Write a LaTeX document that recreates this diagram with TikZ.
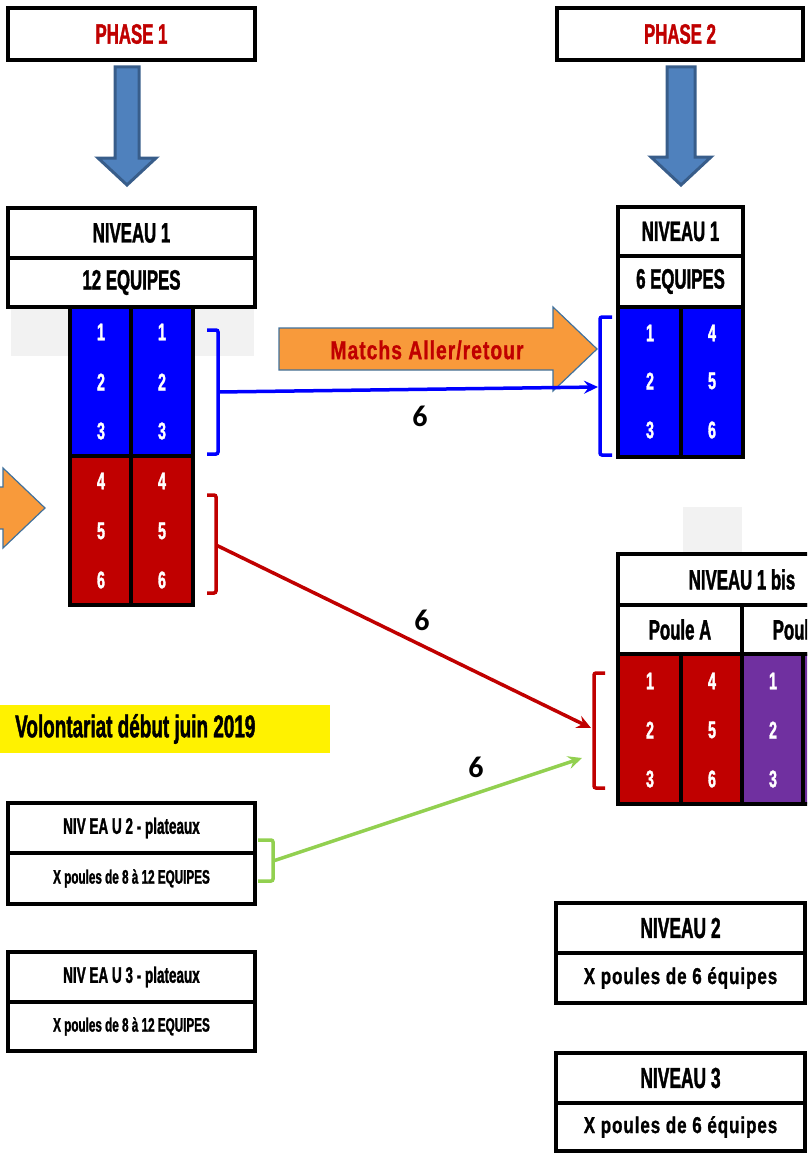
\documentclass[tikz,border=0pt]{standalone}
\usepackage{fontspec}
\usetikzlibrary{arrows.meta}
\newfontfamily\agency[FakeStretch=0.6,FakeBold=1.3]{Liberation Sans}
\newfontfamily\agencyw[FakeStretch=0.74,FakeBold=1.0,LetterSpace=4]{Liberation Sans}
\newfontfamily\calib{Carlito}
\definecolor{dred}{HTML}{C00000}
\definecolor{pblue}{HTML}{0000FF}
\definecolor{ppurple}{HTML}{7030A0}
\definecolor{aorange}{HTML}{F89A3B}
\definecolor{aorline}{HTML}{41719C}
\definecolor{afill}{HTML}{4F81BD}
\definecolor{aline}{HTML}{385D8A}
\definecolor{lgreen}{HTML}{92D050}
\definecolor{lgray}{HTML}{F2F2F2}
\tikzset{
  box/.style={draw=black, line width=3.5pt, fill=white, inner sep=0pt, rectangle,
    font=\agency\bfseries\fontsize{28}{28}\selectfont},
  smallbox/.style={box, font=\agency\bfseries\fontsize{22.5}{22.5}\selectfont},
  widebox/.style={box, font=\agencyw\bfseries\fontsize{23}{23}\selectfont},
  tcell/.style={draw=black, line width=3.5pt, inner sep=0pt, rectangle},
  num/.style={text=white, inner sep=0pt, font=\agency\bfseries\fontsize{24}{24}\selectfont},
  lbl/.style={inner sep=0pt, font=\calib\bfseries\fontsize{30}{30}\selectfont},
  brk/.style={line width=3.5pt, rounded corners=2pt},
  bigarrow/.style={fill=afill, draw=aline, line width=3pt, line join=miter},
  orarrow/.style={fill=aorange, draw=aorline, line width=1.2pt},
  conn/.style={line width=3.5pt, -{Stealth[length=14pt, width=13pt, inset=5pt]}},
}
\begin{document}
\begin{tikzpicture}[x=1pt, y=-1pt]
\useasboundingbox (0,0) rectangle (807,1153);
\clip (0,0) rectangle (807,1153);
% gray background patches
\fill[lgray] (11,307) rectangle (254,356);
\fill[lgray] (683,507) rectangle (742,553);

% phase boxes
\node[box, minimum width=247pt, minimum height=52pt, text=dred] (ph1) at (131.5,34) {PHASE 1};
\node[box, minimum width=246pt, minimum height=52pt, text=dred] (ph2) at (680,34) {PHASE 2};

% big down arrows
\draw[bigarrow] (115,67) -- (139,67) -- (139,158) -- (156,158) -- (127,185) -- (98,158) -- (115,158) -- cycle;
\draw[bigarrow] (667,67) -- (695,67) -- (695,157) -- (711,157) -- (681,185) -- (651,157) -- (667,157) -- cycle;

% left level 1
\node[box, minimum width=247pt, minimum height=50pt] (n1l) at (131.5,233) {NIVEAU 1};
\node[box, minimum width=247pt, minimum height=49pt] (eq12) at (131.5,282.5) {12 EQUIPES};
\node[tcell, fill=pblue, minimum width=61pt, minimum height=149pt] (lb1) at (100.5,381.5) {};
\node[tcell, fill=pblue, minimum width=62pt, minimum height=149pt] (lb2) at (162,381.5) {};
\node[tcell, fill=dred, minimum width=61pt, minimum height=149pt] (lr1) at (100.5,530.5) {};
\node[tcell, fill=dred, minimum width=62pt, minimum height=149pt] (lr2) at (162,530.5) {};
\foreach \v/\y in {1/332,2/382,3/431,4/481,5/531,6/580}{
  \node[num] (la\v) at (101,\y) {\v};
  \node[num] (lc\v) at (162,\y) {\v};
}

% right level 1
\node[box, minimum width=125pt, minimum height=49pt] (n1r) at (680.5,231.5) {NIVEAU 1};
\node[box, minimum width=125pt, minimum height=51pt] (eq6) at (680.5,281.5) {6 EQUIPES};
\node[tcell, fill=pblue, minimum width=63pt, minimum height=150pt] (rb1) at (649.5,382) {};
\node[tcell, fill=pblue, minimum width=62pt, minimum height=150pt] (rb2) at (712,382) {};
\foreach \a/\b/\y in {1/4/333,2/5/381,3/6/430}{
  \node[num] (ra\a) at (650,\y) {\a};
  \node[num] (rc\b) at (712,\y) {\b};
}

% niveau 1 bis
\node[box, minimum width=248pt, minimum height=51pt] (n1b) at (742,579.5) {NIVEAU 1 bis};
\node[box, minimum width=124pt, minimum height=49pt] (pa) at (680,629.5) {Poule A};
\node[box, minimum width=124pt, minimum height=49pt] (pb) at (804,629.5) {Poule B};
\node[tcell, fill=dred, minimum width=63pt, minimum height=150pt] (br1) at (649.5,729) {};
\node[tcell, fill=dred, minimum width=61pt, minimum height=150pt] (br2) at (711.5,729) {};
\node[tcell, fill=ppurple, minimum width=61pt, minimum height=150pt] (bp1) at (772.5,729) {};
\node[tcell, fill=ppurple, minimum width=63pt, minimum height=150pt] (bp2) at (834.5,729) {};
\foreach \a/\b/\y in {1/4/681,2/5/730,3/6/779}{
  \node[num] (ba\a) at (650,\y) {\a};
  \node[num] (bc\b) at (712,\y) {\b};
  \node[num] (bd\a) at (773,\y) {\a};
}

% left lower levels
\node[smallbox, minimum width=247pt, minimum height=50pt] (n2p) at (131.5,828) {NIV EA U 2 - plateaux};
\node[box, minimum width=247pt, minimum height=51pt, font=\agency\bfseries\fontsize{19.5}{19.5}\selectfont] (x2p) at (131.5,878.5) {X poules de 8 à 12 EQUIPES};
\node[smallbox, minimum width=247pt, minimum height=50pt] (n3p) at (131.5,977) {NIV EA U 3 - plateaux};
\node[box, minimum width=247pt, minimum height=49pt, font=\agency\bfseries\fontsize{19.5}{19.5}\selectfont] (x3p) at (131.5,1026.5) {X poules de 8 à 12 EQUIPES};

% right lower levels
\node[box, minimum width=249pt, minimum height=50pt, font=\agency\bfseries\fontsize{29}{29}\selectfont] (n2r) at (680.5,928) {NIVEAU 2};
\node[widebox, minimum width=249pt, minimum height=50pt] (x2r) at (680.5,978) {X poules de 6 équipes};
\node[box, minimum width=249pt, minimum height=50pt, font=\agency\bfseries\fontsize{29}{29}\selectfont] (n3r) at (680.5,1078) {NIVEAU 3};
\node[widebox, minimum width=249pt, minimum height=48pt] (x3r) at (680.5,1127) {X poules de 6 équipes};

% yellow label
\fill[yellow] (0,705) rectangle (330,753);
\node[anchor=west, inner sep=0pt, font=\agency\bfseries\fontsize{31.5}{31.5}\selectfont] (vol) at (15,729) {Volontariat début juin 2019};

% orange arrows
\draw[orarrow] (-60,487) -- (3,487) -- (3,468) -- (45,508) -- (3,548) -- (3,529) -- (-60,529) -- cycle;
\draw[orarrow] (279,328) -- (553,328) -- (553,307) -- (597,349) -- (553,391) -- (553,370) -- (279,370) -- cycle;
\node[text=dred, inner sep=0pt, font=\agencyw\bfseries\fontsize{26}{26}\selectfont] (mar) at (427,350) {Matchs Aller/retour};

% brackets
\draw[brk, pblue] (207,330) -- (218,330) -- (218,454) -- (207,454);
\draw[brk, dred] (207,495) -- (216,495) -- (216,593) -- (207,593);
\draw[brk, pblue] (612,317) -- (600,317) -- (600,455) -- (612,455);
\draw[brk, dred] (605,673) -- (594,673) -- (594,788) -- (605,788);
\draw[brk, lgreen] (258,840) -- (273,840) -- (273,881) -- (258,881);

% connectors
\coordinate (bs) at (218,392);
\coordinate (be) at (598,387);
\coordinate (rs) at (216,545);
\coordinate (re) at (591,728);
\coordinate (gs) at (273,861);
\coordinate (ge) at (582,758);
\draw[conn, pblue] (bs) -- (be);
\draw[conn, dred] (rs) -- (re);
\draw[conn, lgreen] (gs) -- (ge);

% labels
\node[lbl] (l6a) at (420,416) {6};
\node[lbl] (l6b) at (422,620) {6};
\node[lbl] (l6c) at (476,767) {6};
\end{tikzpicture}
\end{document}
